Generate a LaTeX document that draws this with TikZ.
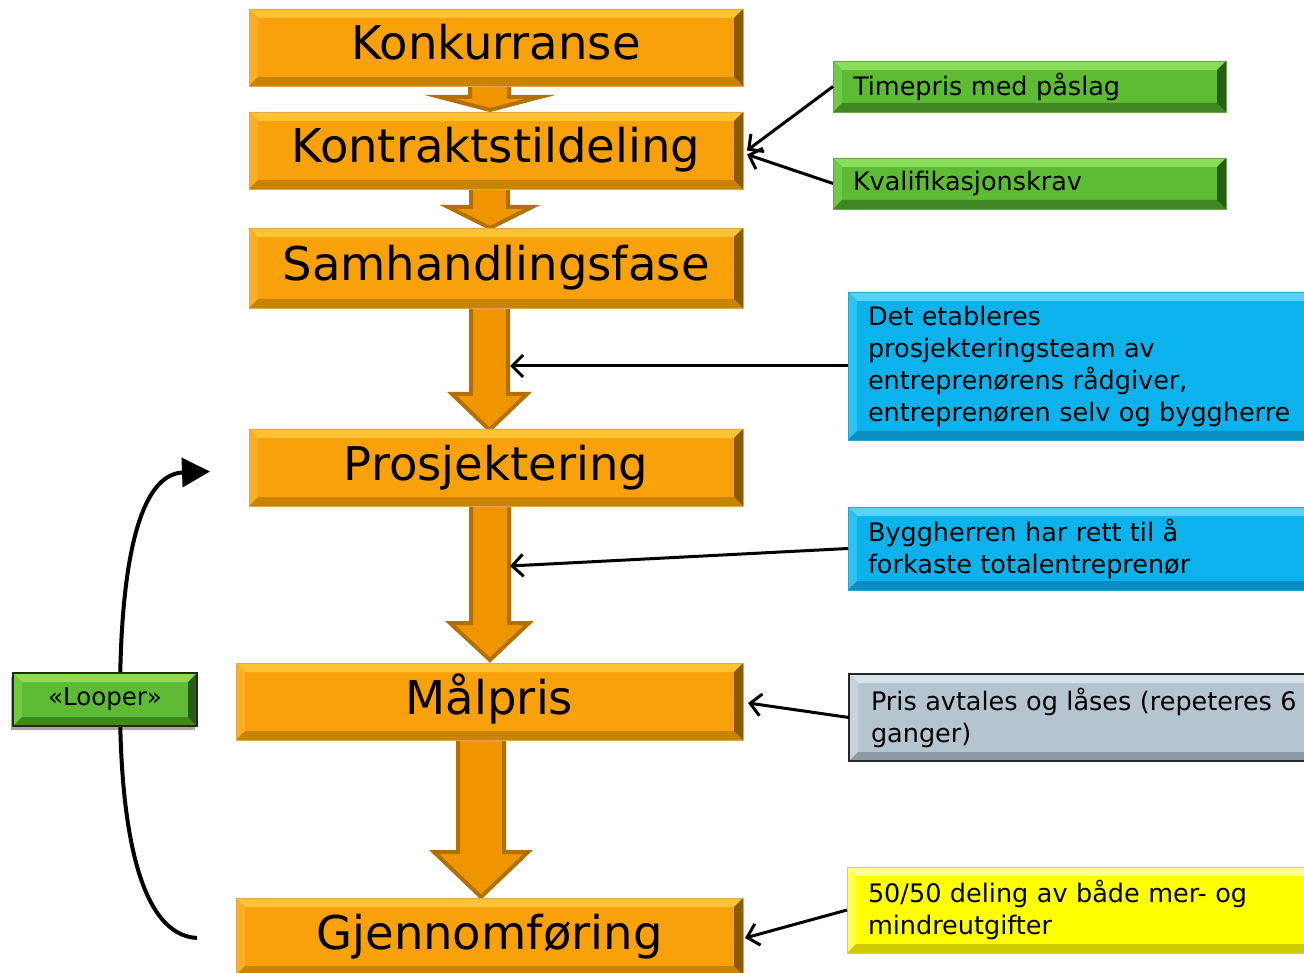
\documentclass[tikz,border=0pt]{standalone}
\usepackage{fontspec}
\setmainfont{DejaVu Sans}
\usetikzlibrary{arrows.meta,shadows}
\definecolor{obfill}{HTML}{F9A10B}
\definecolor{obtop}{HTML}{FFC233}
\definecolor{obleft}{HTML}{FBAE25}
\definecolor{obbot}{HTML}{C88300}
\definecolor{obright}{HTML}{8A5A05}
\definecolor{obline}{HTML}{E3A84A}
\definecolor{arfill}{HTML}{EE9500}
\definecolor{arline}{HTML}{B37000}
\definecolor{gfill}{HTML}{5DBB34}
\definecolor{gtop}{HTML}{8CDC5C}
\definecolor{gleft}{HTML}{72C946}
\definecolor{gbot}{HTML}{3F8624}
\definecolor{gright}{HTML}{2A5C18}
\definecolor{bfill}{HTML}{0BB2EC}
\definecolor{btop}{HTML}{58D2FA}
\definecolor{bleft}{HTML}{2EC0F2}
\definecolor{bbot}{HTML}{0A8DC0}
\definecolor{bright}{HTML}{076A90}
\definecolor{grfill}{HTML}{B5C5D0}
\definecolor{grtop}{HTML}{D7E3EA}
\definecolor{grleft}{HTML}{C5D3DC}
\definecolor{grbot}{HTML}{8D9BA5}
\definecolor{grright}{HTML}{6A7780}
\definecolor{yfill}{HTML}{FFFF00}
\definecolor{ytop}{HTML}{FFFF9A}
\definecolor{yleft}{HTML}{FFFF55}
\definecolor{ybot}{HTML}{CCCC00}
\definecolor{yright}{HTML}{9A9A00}
\newcommand{\bevw}{9pt}
\tikzset{
  bevel/.style n args={4}{path picture={
    \fill[#1] (path picture bounding box.north west) -- (path picture bounding box.north east)
      -- ([xshift=-\bevw,yshift=-\bevw]path picture bounding box.north east)
      -- ([xshift=\bevw,yshift=-\bevw]path picture bounding box.north west) -- cycle;
    \fill[#2] (path picture bounding box.north west) -- (path picture bounding box.south west)
      -- ([xshift=\bevw,yshift=\bevw]path picture bounding box.south west)
      -- ([xshift=\bevw,yshift=-\bevw]path picture bounding box.north west) -- cycle;
    \fill[#3] (path picture bounding box.south west) -- (path picture bounding box.south east)
      -- ([xshift=-\bevw,yshift=\bevw]path picture bounding box.south east)
      -- ([xshift=\bevw,yshift=\bevw]path picture bounding box.south west) -- cycle;
    \fill[#4] (path picture bounding box.north east) -- (path picture bounding box.south east)
      -- ([xshift=-\bevw,yshift=\bevw]path picture bounding box.south east)
      -- ([xshift=-\bevw,yshift=-\bevw]path picture bounding box.north east) -- cycle;
  }},
  mainbox/.style={draw=obline, line width=0.8pt, fill=obfill,
    bevel={obtop}{obleft}{obbot}{obright}, minimum height=77pt,
    inner sep=0pt, outer sep=0pt, anchor=north west,
    font=\fontsize{46.5}{56}\selectfont, text height=35pt, text depth=10pt},
  sidebox/.style={anchor=north west, inner xsep=20pt, inner ysep=0pt, outer sep=0pt,
    align=left, font=\fontsize{25.5}{32}\selectfont},
  greenbox/.style={sidebox, fill=gfill, draw=gfill!60!gray, line width=0.8pt,
    bevel={gtop}{gleft}{gbot}{gright}},
  bluebox/.style={sidebox, fill=bfill, draw=bfill!70!gray, line width=0.8pt,
    bevel={btop}{bleft}{bbot}{bright}},
  greybox/.style={sidebox, fill=grfill, draw=black!85, line width=2pt,
    bevel={grtop}{grleft}{grbot}{grright}},
  yellowbox/.style={sidebox, fill=yfill, draw=yfill!70!gray, line width=0.8pt,
    bevel={ytop}{yleft}{ybot}{yright}},
  loopbox/.style={fill=gfill, draw=black!85, line width=2pt,
    bevel={gtop}{gleft}{gbot}{gright}, minimum width=184pt, minimum height=53pt,
    inner sep=0pt, font=\fontsize{24.5}{30}\selectfont,
    drop shadow={shadow xshift=-2pt, shadow yshift=-4pt, opacity=0.35, fill=black}},
  barrow/.style={fill=arfill, draw=arline, line width=4pt, line join=miter},
  conn/.style={draw=black, line width=3pt, -{Straight Barb[length=11pt,width=22pt]}},
  loopc/.style={draw=black, line width=4pt, -{Triangle[length=28pt,width=29pt]}}
}
\begin{document}
\begin{tikzpicture}[x=1pt,y=-1pt]
\useasboundingbox (0,0) rectangle (1304,973);
\clip (0,0) rectangle (1304,973);
\fill[white] (0,0) rectangle (1304,973);

% block arrows
\draw[barrow] (470,80) -- (470,97) -- (440,97) -- (490,110) -- (540,97) -- (509,97) -- (509,80) -- cycle;
\draw[barrow] (471,185) -- (471,207) -- (448,207) -- (490,228) -- (532,207) -- (508,207) -- (508,185) -- cycle;
\draw[barrow] (471,304) -- (471,394) -- (452,394) -- (489.5,430) -- (527,394) -- (508,394) -- (508,304) -- cycle;
\draw[barrow] (471,502) -- (471,623) -- (450,623) -- (490,660) -- (529,623) -- (509,623) -- (509,502) -- cycle;
\draw[barrow] (458,736) -- (458,852) -- (434,852) -- (481,897) -- (528,852) -- (504,852) -- (504,736) -- cycle;
\coordinate (t3) at (510,366);
\coordinate (t4) at (510,566);

% main boxes
\node[mainbox, minimum width=494pt] (k1) at (249,9) {Konkurranse};
\node[mainbox, minimum width=494pt] (kt) at (249,112) {Kontraktstildeling};
\node[mainbox, minimum width=494pt, minimum height=80pt] (sf) at (249,228) {Samhandlingsfase};
\node[mainbox, minimum width=494pt] (pr) at (249,429) {Prosjektering};
\node[mainbox, minimum width=507pt] (mp) at (236,663) {Målpris};
\node[mainbox, minimum width=507pt] (gj) at (236,898) {Gjennomføring};

% side boxes
\node[greenbox, text width=353pt, minimum height=51pt] (tp) at (833,61) {Timepris med påslag};
\node[greenbox, text width=353pt, minimum height=51pt] (kv) at (833,158) {Kvalifikasjonskrav};
\node[bluebox, text width=432pt, minimum height=148pt] (bl1) at (848,292)
  {Det etableres\\prosjekteringsteam av\\entreprenørens rådgiver,\\entreprenøren selv og byggherre};
\node[bluebox, text width=432pt, minimum height=83pt] (bl2) at (848,507)
  {Byggherren har rett til å\\forkaste totalentreprenør};
\node[greybox, inner xsep=22pt, text width=430pt, minimum height=87pt] (gr) at (849,674)
  {Pris avtales og låses (repeteres 6\\ganger)};
\node[yellowbox, inner xsep=21pt, text width=432pt, minimum height=86pt] (ye) at (847,867)
  {50/50 deling av både mer- og\\mindreutgifter};

% connectors
\draw[conn] (tp.west) -- ([xshift=4pt]kt.east);
\draw[conn] (kv.west) -- ([xshift=4pt,yshift=-4pt]kt.east);
\draw[conn] (bl1.west) -- (t3);
\draw[conn] (bl2.west) -- (t4);
\draw[conn] (gr.west) -- ([xshift=5pt,yshift=-1.5pt]mp.east);
\draw[conn] (ye.west) -- ([xshift=2pt,yshift=-1.5pt]gj.east);

% loop
\draw[loopc] ([xshift=-39pt,yshift=-1.5pt]gj.west) .. controls (140,935) and (120,830) .. (120,700)
  .. controls (120,560) and (140,474) .. ([xshift=-39pt,yshift=-4pt]pr.west);
\node[loopbox] (lp) at (105,699.5) {«Looper»};
\end{tikzpicture}
\end{document}
